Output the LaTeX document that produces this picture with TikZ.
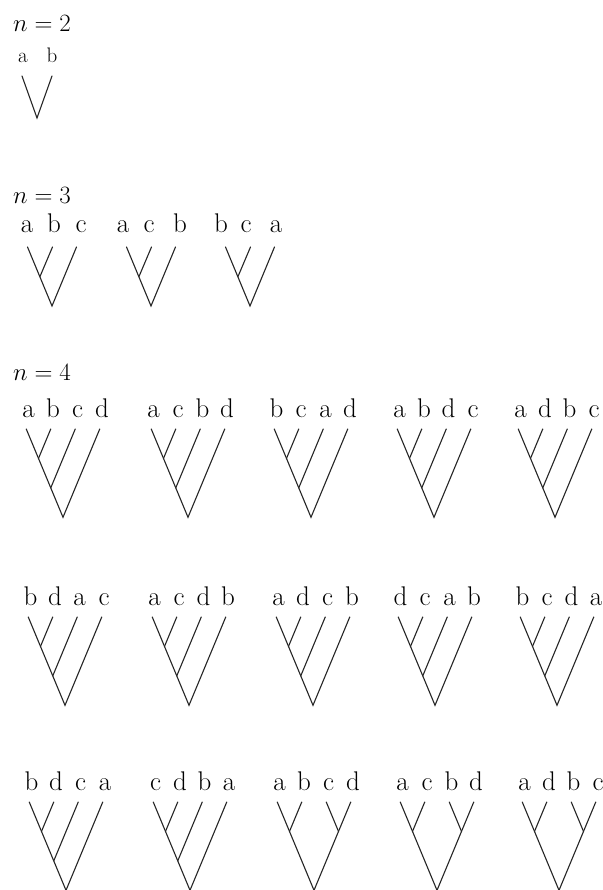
\documentclass[tikz,border=0pt]{standalone}
\tikzset{
  lbl/.style={anchor=base, inner sep=0pt, font=\fontsize{27}{32}\selectfont},
  slbl/.style={anchor=base, inner sep=0pt, font=\fontsize{21}{25}\selectfont},
  ttl/.style={anchor=base west, inner sep=0pt, font=\fontsize{27}{32}\selectfont},
  br/.style={line width=1.1pt, line cap=round, black!85}
}
% 4-leaf caterpillar tree: #1 name, #2 root x, #3 top y, #4-#7 letters
\newcommand\cattree[7]{%
  \coordinate (#1l1) at (#2-36.75,#3);
  \coordinate (#1l2) at (#2-12.25,#3);
  \coordinate (#1l3) at (#2+12.25,#3);
  \coordinate (#1l4) at (#2+36.75,#3);
  \coordinate (#1r) at (#2,#3+88.3);
  \coordinate (#1i1) at (#2-24.5,#3+29.4);
  \coordinate (#1i2) at (#2-12.25,#3+58.9);
  \draw[br] (#1l1) -- (#1r) -- (#1l4);
  \draw[br] (#1l2) -- (#1i1);
  \draw[br] (#1l3) -- (#1i2);
  \node[lbl] (#1a) at (#2-34.5,#3-12) {#4};
  \node[lbl] (#1b) at (#2-10,#3-12) {#5};
  \node[lbl] (#1c) at (#2+14.5,#3-12) {#6};
  \node[lbl] (#1d) at (#2+39,#3-12) {#7};
}
% 4-leaf balanced tree
\newcommand\baltree[7]{%
  \coordinate (#1l1) at (#2-36.75,#3);
  \coordinate (#1l2) at (#2-12.25,#3);
  \coordinate (#1l3) at (#2+12.25,#3);
  \coordinate (#1l4) at (#2+36.75,#3);
  \coordinate (#1r) at (#2,#3+88.3);
  \coordinate (#1i1) at (#2-24.5,#3+29.4);
  \coordinate (#1i2) at (#2+24.5,#3+29.4);
  \draw[br] (#1l1) -- (#1r) -- (#1l4);
  \draw[br] (#1l2) -- (#1i1);
  \draw[br] (#1l3) -- (#1i2);
  \node[lbl] (#1a) at (#2-34.5,#3-12) {#4};
  \node[lbl] (#1b) at (#2-10,#3-12) {#5};
  \node[lbl] (#1c) at (#2+14.5,#3-12) {#6};
  \node[lbl] (#1d) at (#2+39,#3-12) {#7};
}
% 3-leaf tree: #1 name, #2 root x, #3-#5 letter x, #6-#8 letters
\newcommand\tritree[8]{%
  \coordinate (#1l1) at (#2-24.5,247);
  \coordinate (#1l2) at (#2+0.5,247);
  \coordinate (#1l3) at (#2+24.5,247);
  \coordinate (#1r) at (#2,306);
  \coordinate (#1i1) at (#2-12,276.5);
  \draw[br] (#1l1) -- (#1r) -- (#1l3);
  \draw[br] (#1l2) -- (#1i1);
  \node[lbl] (#1a) at (#3,233) {#6};
  \node[lbl] (#1b) at (#4,233) {#7};
  \node[lbl] (#1c) at (#5,233) {#8};
}
\begin{document}
\begin{tikzpicture}[x=1pt,y=-1pt]
\useasboundingbox[fill=white] (0,0) rectangle (602,890);

% n = 2
\node[ttl] (t2) at (13,32) {$n=2$};
\node[slbl] (t2a) at (23,63) {a};
\node[slbl] (t2b) at (52,63) {b};
\coordinate (t2l1) at (22,76);
\coordinate (t2l2) at (52,76);
\coordinate (t2r) at (37,118);
\draw[br] (t2l1) -- (t2r) -- (t2l2);

% n = 3
\node[ttl] (t3) at (13,204) {$n=3$};
\tritree{s1}{52}{27}{54}{81}{a}{b}{c}
\tritree{s2}{151}{123}{149}{180}{a}{c}{b}
\tritree{s3}{250}{221}{246}{276}{b}{c}{a}

% n = 4
\node[ttl] (t4) at (13,380) {$n=4$};
\cattree{p1}{63}{429}{a}{b}{c}{d}
\cattree{p2}{188}{429}{a}{c}{b}{d}
\cattree{p3}{311}{429}{b}{c}{a}{d}
\cattree{p4}{434}{429}{a}{b}{d}{c}
\cattree{p5}{555}{429}{a}{d}{b}{c}

\cattree{q1}{65}{617}{b}{d}{a}{c}
\cattree{q2}{189}{617}{a}{c}{d}{b}
\cattree{q3}{313}{617}{a}{d}{c}{b}
\cattree{q4}{435}{617}{d}{c}{a}{b}
\cattree{q5}{557}{617}{b}{c}{d}{a}

\cattree{u1}{66}{802}{b}{d}{c}{a}
\cattree{u2}{190}{802}{c}{d}{b}{a}
\baltree{u3}{314}{802}{a}{b}{c}{d}
\baltree{u4}{437}{802}{a}{c}{b}{d}
\baltree{u5}{559}{802}{a}{d}{b}{c}
\end{tikzpicture}
\end{document}
